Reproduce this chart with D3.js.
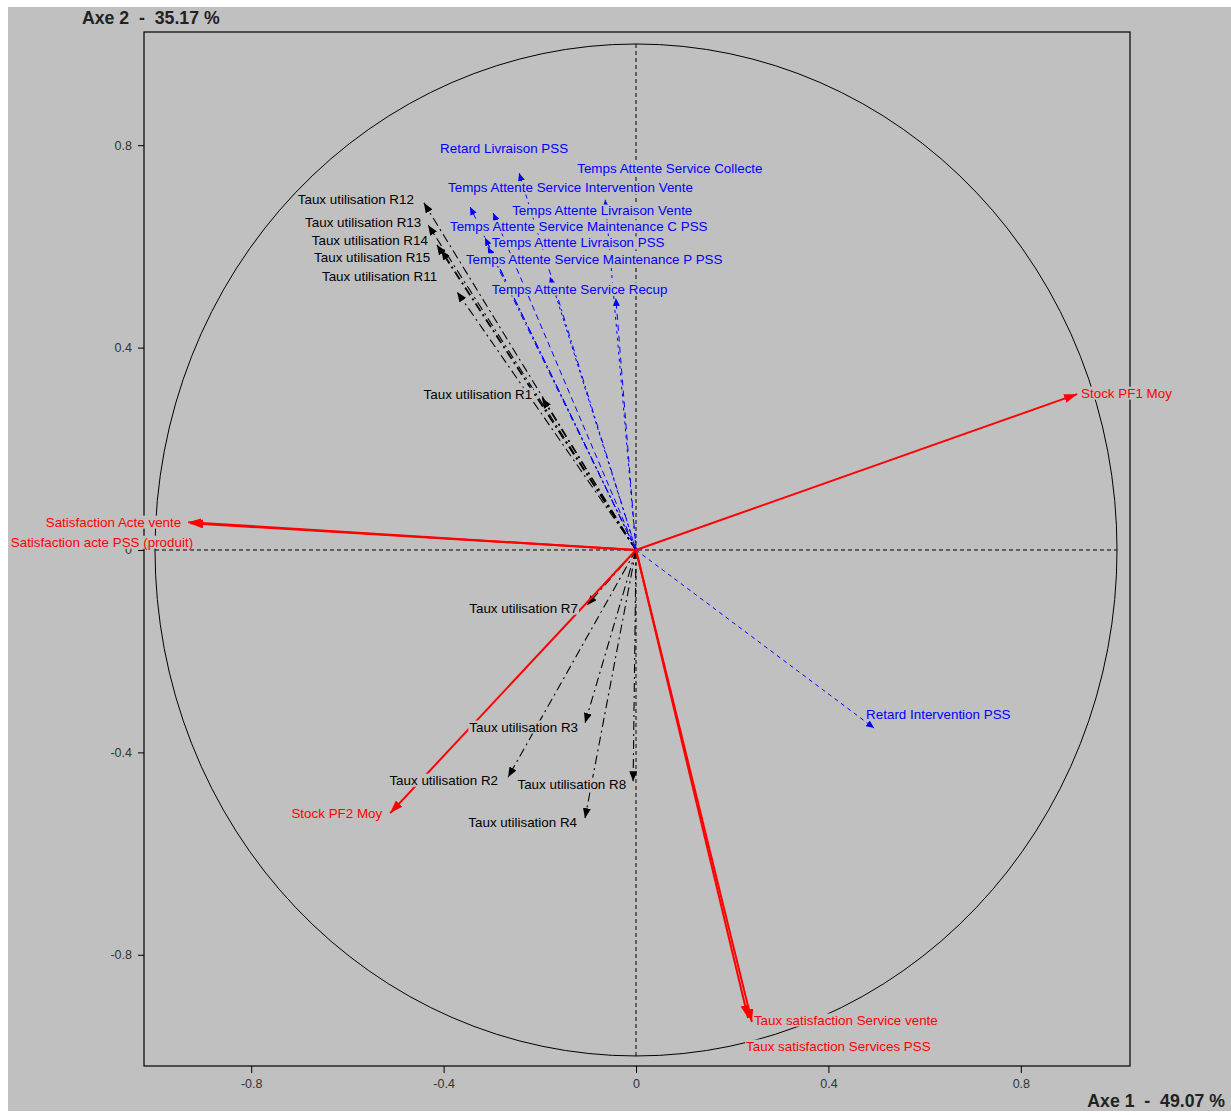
<!DOCTYPE html>
<html><head><meta charset="utf-8">
<script src="https://cdn.jsdelivr.net/npm/d3@7"></script>
<style>
html,body{margin:0;padding:0;background:#fff;}
svg text{font-family:"Liberation Sans",Arial,sans-serif;}
</style></head>
<body>
<svg id="chart" width="1231" height="1115"></svg>
<script>
// ---------- DATA ----------
const tickValues = [-0.8, -0.4, 0, 0.4, 0.8];
const axis1Title = "Axe 1  -  49.07 %";
const axis2Title = "Axe 2  -  35.17 %";

// red (solid) vectors
const redNames = ["Stock PF1 Moy", "Satisfaction Acte vente", "Satisfaction acte PSS (produit)", "Stock PF2 Moy", "Taux satisfaction Service vente", "Taux satisfaction Services PSS"];
const redX = [0.917, -0.931, -0.927, -0.511, 0.241, 0.233];
const redY = [0.308, 0.055, 0.053, -0.520, -0.933, -0.925];

// black (dash-dot) vectors
const blackNames = ["Taux utilisation R12", "Taux utilisation R13", "Taux utilisation R14", "Taux utilisation R15", "Taux utilisation R11", "Taux utilisation R1", "Taux utilisation R7", "Taux utilisation R3", "Taux utilisation R2", "Taux utilisation R8", "Taux utilisation R4"];
const blackX = [-0.441, -0.432, -0.414, -0.405, -0.372, -0.195, -0.102, -0.106, -0.266, -0.006, -0.106];
const blackY = [0.686, 0.642, 0.603, 0.593, 0.510, 0.300, -0.109, -0.342, -0.449, -0.457, -0.530];

// blue (dashed) vectors
const blueNames = ["Retard Livraison PSS", "Temps Attente Service Collecte", "Temps Attente Service Intervention Vente", "Temps Attente Livraison Vente", "Temps Attente Service Maintenance C PSS", "Temps Attente Livraison PSS", "Temps Attente Service Maintenance P PSS", "Temps Attente Service Recup", "Retard Intervention PSS"];
const blueX = [-0.243, -0.064, -0.345, -0.297, -0.314, -0.308, -0.179, -0.042, 0.495];
const blueY = [0.745, 0.692, 0.678, 0.666, 0.617, 0.599, 0.540, 0.498, -0.352];

// ---------- LAYOUT / STYLE ----------
// label placement relative to arrow tip: [anchor, dx, dy] in px
const labelLayout = {
  "Stock PF1 Moy": ["start", 4, -1],
  "Satisfaction Acte vente": ["end", -7, 0],
  "Satisfaction acte PSS (produit)": ["end", 3, 19],
  "Stock PF2 Moy": ["end", -8, 0],
  "Taux satisfaction Service vente": ["start", 2, -2],
  "Taux satisfaction Services PSS": ["start", -2, 28],
  "Taux utilisation R12": ["end", -10, -3],
  "Taux utilisation R13": ["end", -7, -3],
  "Taux utilisation R14": ["end", -9, -4],
  "Taux utilisation R15": ["end", -11, 8],
  "Taux utilisation R11": ["end", -20, -15],
  "Taux utilisation R1": ["end", -10, -4],
  "Taux utilisation R7": ["end", -9, 3],
  "Taux utilisation R3": ["end", -7, 4],
  "Taux utilisation R2": ["end", -10, 3],
  "Taux utilisation R8": ["end", -7, 3],
  "Taux utilisation R4": ["end", -8, 4],
  "Retard Livraison PSS": ["middle", -15, -25],
  "Temps Attente Service Collecte": ["start", -28, -31],
  "Temps Attente Service Intervention Vente": ["start", -22, -19],
  "Temps Attente Livraison Vente": ["start", 19, -2],
  "Temps Attente Service Maintenance C PSS": ["start", -35, -11],
  "Temps Attente Livraison PSS": ["start", 4, -4],
  "Temps Attente Service Maintenance P PSS": ["start", -84, -17],
  "Temps Attente Service Recup": ["start", -124, -9],
  "Retard Intervention PSS": ["start", -8, -14]
};
const blueDash = ["6,4,2,4", "3,4", "8,3,2,3", "6,4", "8,3,2,3", "6,4,2,4", "3,3", "6,5", "4,4"];
const BG = "#c0c0c0";
const LABEL_SIZE = 13.4;

// ---------- DRAW ----------
const svg = d3.select("#chart");
const frame = {left: 144, right: 1130, top: 32, bottom: 1066};

const x = d3.scaleLinear().domain([-1.0229, 1.0270]).range([frame.left, frame.right]);
const y = d3.scaleLinear().domain([-1.0198, 1.0237]).range([frame.bottom, frame.top]);

svg.append("rect").attr("x", 8).attr("y", 7).attr("width", 1223).attr("height", 1104).attr("fill", BG);

// markers
const defs = svg.append("defs");
function marker(id, color, len, wid) {
  defs.append("marker").attr("id", id)
    .attr("viewBox", `0 ${-wid/2} ${len} ${wid}`)
    .attr("refX", len).attr("refY", 0)
    .attr("markerWidth", len).attr("markerHeight", wid)
    .attr("markerUnits", "userSpaceOnUse")
    .attr("orient", "auto")
    .append("path").attr("d", `M0,${-wid/2}L${len},0L0,${wid/2}Z`).attr("fill", color);
}
marker("arR", "#ff0000", 13, 9);
marker("arK", "#000000", 10, 8);
marker("arB", "#0000ff", 8, 7);

// frame
svg.append("rect").attr("x", frame.left).attr("y", frame.top)
  .attr("width", frame.right - frame.left).attr("height", frame.bottom - frame.top)
  .attr("fill", "none").attr("stroke", "#000").attr("stroke-width", 1.2);

// axes
const fmt = d => String(d);
const gy = svg.append("g").attr("transform", `translate(${frame.left},0)`)
  .call(d3.axisLeft(y).tickValues(tickValues).tickSize(6).tickSizeOuter(0).tickPadding(6).tickFormat(fmt));
const gx = svg.append("g").attr("transform", `translate(0,${frame.bottom})`)
  .call(d3.axisBottom(x).tickValues(tickValues).tickSize(7).tickSizeOuter(0).tickPadding(6).tickFormat(fmt));
[gx, gy].forEach(g => {
  g.select(".domain").remove();
  g.selectAll("line").attr("stroke", "#000");
  g.selectAll("text").attr("fill", "#333").attr("font-size", 12.5).style("font-family", "'Liberation Sans',Arial,sans-serif");
});

// correlation circle
svg.append("ellipse").attr("cx", x(0)).attr("cy", y(0))
  .attr("rx", x(1) - x(0)).attr("ry", y(0) - y(1))
  .attr("fill", "none").attr("stroke", "#000").attr("stroke-width", 1);

// dashed cross axes
svg.append("line").attr("x1", x(-1)).attr("x2", x(1)).attr("y1", y(0)).attr("y2", y(0))
  .attr("stroke", "#000").attr("stroke-dasharray", "4,3");
svg.append("line").attr("x1", x(0)).attr("x2", x(0)).attr("y1", y(1)).attr("y2", y(-1))
  .attr("stroke", "#000").attr("stroke-dasharray", "4,3");

const vecs = svg.append("g");
function drawVectors(names, xs, ys, color, mk, width, dashFn) {
  names.forEach((n, i) => {
    vecs.append("line")
      .attr("x1", x(0)).attr("y1", y(0))
      .attr("x2", x(xs[i])).attr("y2", y(ys[i]))
      .attr("stroke", color).attr("stroke-width", width)
      .attr("stroke-dasharray", dashFn(i))
      .attr("marker-end", `url(#${mk})`);
  });
}
drawVectors(blackNames, blackX, blackY, "#000", "arK", 1.1, () => "9,4,2,4");
drawVectors(blueNames, blueX, blueY, "#0000ff", "arB", 1, i => blueDash[i]);
drawVectors(redNames, redX, redY, "#ff0000", "arR", 2, () => null);

// labels with opaque background
const labs = svg.append("g");
function drawLabels(names, xs, ys, color) {
  names.forEach((n, i) => {
    const L = labelLayout[n];
    const g = labs.append("g");
    const t = g.append("text")
      .attr("x", x(xs[i]) + L[1]).attr("y", y(ys[i]) + L[2])
      .attr("text-anchor", L[0]).attr("dominant-baseline", "central")
      .attr("font-size", LABEL_SIZE).attr("fill", color).text(n);
    const b = t.node().getBBox();
    g.insert("rect", "text").attr("x", b.x - 1).attr("y", b.y + 1)
      .attr("width", b.width + 2).attr("height", b.height - 2).attr("fill", BG);
  });
}
drawLabels(blackNames, blackX, blackY, "#000");
drawLabels(blueNames, blueX, blueY, "#0000ff");
drawLabels(redNames, redX, redY, "#ff0000");

// axis titles
svg.append("text").attr("x", 82).attr("y", 24).attr("font-size", 17.7).attr("font-weight", "bold")
  .attr("fill", "#222").style("white-space", "pre").text(axis2Title);
svg.append("text").attr("x", 1225).attr("y", 1107).attr("text-anchor", "end").attr("font-size", 17.7).attr("font-weight", "bold")
  .attr("fill", "#222").style("white-space", "pre").text(axis1Title);
</script>
</body></html>
